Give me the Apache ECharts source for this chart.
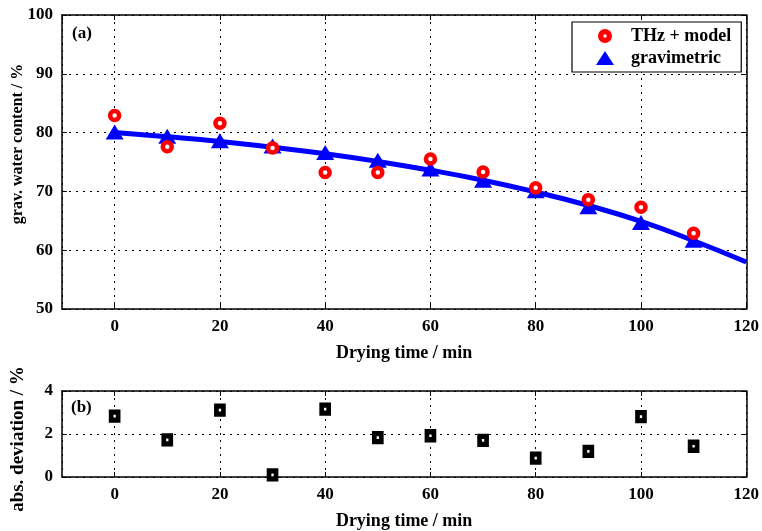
<!DOCTYPE html>
<html>
<head>
<meta charset="utf-8">
<script src="https://cdn.jsdelivr.net/npm/echarts@6/dist/echarts.min.js"></script>
<style>
  html, body { margin: 0; padding: 0; background: #fff; }
  #chart { width: 762px; height: 531px; }
</style>
</head>
<body>
<div id="chart"></div>
<script>
// drying time (min) of the measurements
const times = [0, 10, 20, 30, 40, 50, 60, 70, 80, 90, 100, 110];
// THz + model estimate of gravimetric water content (%)
const thzModel = [82.9, 77.6, 81.6, 77.4, 73.2, 73.2, 75.5, 73.3, 70.6, 68.6, 67.3, 62.9];
// gravimetric reference (%)
const gravimetric = [80.1, 79.4, 78.6, 77.7, 76.6, 75.3, 73.8, 71.9, 70.1, 67.4, 64.7, 61.7];
// fit through the gravimetric data
const fitTimes = [0, 10, 20, 30, 40, 50, 60, 70, 80, 90, 100, 110, 120];
const fitValues = [80.0, 79.3, 78.5, 77.5, 76.4, 75.1, 73.6, 71.9, 69.9, 67.6, 64.9, 61.6, 58.0];
// absolute deviation (%)
const absDeviation = [2.83, 1.73, 3.11, 0.1, 3.16, 1.83, 1.92, 1.70, 0.88, 1.19, 2.81, 1.43];

const FONT = 'Liberation Serif';
const pair = (xs, ys) => xs.map((x, i) => [x, ys[i]]);

const dotted = { show: true, lineStyle: { color: '#000', type: [2, 5], width: 1 } };
const axLine = { show: true, onZero: false, lineStyle: { color: '#000', width: 1.5 } };
const tickIn = { show: true, inside: true, length: 5, lineStyle: { color: '#000', width: 1 } };
const lbl = { color: '#000', fontFamily: FONT, fontWeight: 'bold', fontSize: 17 };
const nameStyle = (size) => ({ color: '#000', fontFamily: FONT, fontWeight: 'bold', fontSize: size });

// ring marker and triangle used in the legend
const ringIcon = 'path://M-6.5,0a6.5,6.5 0 1,0 13,0a6.5,6.5 0 1,0 -13,0ZM-1.6,0a1.6,1.6 0 1,1 3.2,0a1.6,1.6 0 1,1 -3.2,0Z';
const triIcon = 'path://M9,0L18,14L0,14Z';

function xAxes(gridIndex) {
  return [
    {
      type: 'value', gridIndex, min: -10, max: 120, splitNumber: 6,
      name: 'Drying time / min', nameLocation: 'middle', nameGap: 35, nameTextStyle: nameStyle(18),
      axisLine: axLine, axisTick: tickIn, splitLine: dotted,
      axisLabel: Object.assign({ margin: 9, showMinLabel: false }, lbl)
    },
    {
      type: 'value', gridIndex, position: 'top', min: -10, max: 120, splitNumber: 6,
      axisLine: axLine, axisTick: tickIn, splitLine: { show: false }, axisLabel: { show: false }
    }
  ];
}

function yAxes(gridIndex, min, max, interval, name, size, gap, pad) {
  return [
    {
      type: 'value', gridIndex, min, max, interval,
      name, nameLocation: 'middle', nameGap: gap, nameMoveOverlap: false,
      nameTextStyle: Object.assign({ padding: pad }, nameStyle(size)),
      axisLine: axLine, axisTick: tickIn, splitLine: dotted,
      axisLabel: Object.assign({ margin: 9 }, lbl)
    },
    {
      type: 'value', gridIndex, position: 'right', min, max, interval,
      axisLine: axLine, axisTick: tickIn, splitLine: { show: false }, axisLabel: { show: false }
    }
  ];
}

const chart = echarts.init(document.getElementById('chart'), null, { renderer: 'canvas' });

chart.setOption({
  animation: false,
  backgroundColor: '#fff',
  grid: [
    { left: 62, right: 15, top: 15, height: 294 },
    { left: 62, right: 15, top: 391, height: 88 }
  ],
  xAxis: [...xAxes(0), ...xAxes(1)],
  yAxis: [
    ...yAxes(0, 50, 100, 10, 'grav. water content / %', 16, 36, [0, 0, 0, 36]),
    ...yAxes(1, 0, 4, 2, 'abs. deviation / %', 19, 34, [0, 10, 0, 0])
  ],
  legend: {
    left: 572, top: 22, orient: 'vertical',
    backgroundColor: '#fff', borderColor: '#000', borderWidth: 1.2,
    padding: [5, 10, 5, 24], itemGap: 4, itemWidth: 18, itemHeight: 14,
    textStyle: { color: '#000', fontFamily: FONT, fontWeight: 'bold', fontSize: 18, padding: [0, 0, 0, 12] },
    data: [
      { name: 'THz + model', icon: ringIcon, itemStyle: { color: '#ff0000', borderWidth: 0 } },
      { name: 'gravimetric', icon: triIcon, itemStyle: { color: '#0000ff', borderWidth: 0 } }
    ]
  },
  graphic: [
    { type: 'text', left: 72, top: 25, style: { text: '(a)', font: 'bold 17px "Liberation Serif"', fill: '#000' } },
    { type: 'text', left: 71, top: 399, style: { text: '(b)', font: 'bold 17px "Liberation Serif"', fill: '#000' } }
  ],
  series: [
    {
      name: 'fit', type: 'line', xAxisIndex: 0, yAxisIndex: 0,
      data: pair(fitTimes, fitValues), smooth: true, showSymbol: false,
      lineStyle: { color: '#0000ff', width: 5 }, z: 2
    },
    {
      name: 'gravimetric', type: 'scatter', xAxisIndex: 0, yAxisIndex: 0,
      data: pair(times, gravimetric), symbol: 'triangle', symbolSize: [18, 15],
      itemStyle: { color: '#0000ff', opacity: 1 }, z: 3
    },
    {
      name: 'THz + model', type: 'scatter', xAxisIndex: 0, yAxisIndex: 0,
      data: pair(times, thzModel), symbol: 'circle', symbolSize: 9,
      itemStyle: { color: '#fff', borderColor: '#ff0000', borderWidth: 4.5, opacity: 1 }, z: 4
    },
    {
      name: 'abs. deviation', type: 'scatter', xAxisIndex: 2, yAxisIndex: 2,
      data: pair(times, absDeviation), symbol: 'rect', symbolSize: [7, 8],
      itemStyle: { color: '#fff', borderColor: '#000', borderWidth: 5, opacity: 1 }, z: 4
    }
  ]
});
</script>
</body>
</html>
